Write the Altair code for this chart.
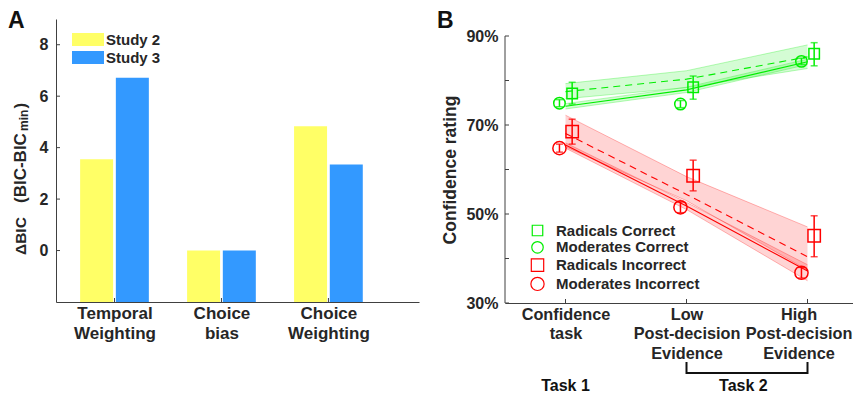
import altair as alt
import pandas as pd

# ---------------- Panel A data ----------------
bic_positions = [1, 2, 3]
bic_label_lines = [["Temporal", "Weighting"], ["Choice", "bias"], ["Choice", "Weighting"]]
studies = ["Study 2", "Study 3"]
study2_dbic = [3.55, 0.0, 4.83]
study3_dbic = [6.72, 0.0, 3.34]
study_colors = ["#ffff66", "#3399ff"]
bic_ticks = [0, 2, 4, 6, 8]

# ---------------- Panel B data ----------------
cond_positions = [1, 2, 3]
cond_label_lines = [["Confidence", "task"],
                    ["Low", "Post-decision", "Evidence"],
                    ["High", "Post-decision", "Evidence"]]
series_names = ["Radicals Correct", "Moderates Correct", "Radicals Incorrect", "Moderates Incorrect"]
series_colors = ["#00ee00", "#00ee00", "#ff0000", "#ff0000"]
series_shapes = ["square", "circle", "square", "circle"]

rad_correct_mean = [77.1, 78.5, 86.0]
rad_correct_lo = [74.7, 75.8, 83.3]
rad_correct_hi = [79.6, 81.0, 88.5]
mod_correct_mean = [74.9, 74.7, 84.3]
mod_correct_lo = [74.1, 73.9, 83.6]
mod_correct_hi = [75.7, 75.5, 85.0]
rad_incorrect_mean = [68.5, 58.6, 45.1]
rad_incorrect_lo = [65.7, 55.2, 40.4]
rad_incorrect_hi = [71.3, 62.1, 49.6]
mod_incorrect_mean = [64.8, 51.5, 36.8]
mod_incorrect_lo = [63.9, 50.3, 35.6]
mod_incorrect_hi = [65.7, 52.7, 38.0]

# model fits with confidence bands
fit_rad_correct = [77.5, 80.3, 85.3]
band_rad_correct_lo = [75.9, 78.4, 82.7]
band_rad_correct_hi = [79.3, 82.2, 88.0]
fit_mod_correct = [74.2, 77.9, 84.2]
band_mod_correct_lo = [73.6, 77.3, 83.6]
band_mod_correct_hi = [74.8, 78.5, 84.8]
fit_rad_incorrect = [68.1, 54.4, 40.4]
band_rad_incorrect_lo = [65.1, 53.0, 37.4]
band_rad_incorrect_hi = [72.2, 58.4, 47.1]
fit_mod_incorrect = [65.5, 51.8, 37.2]
band_mod_incorrect_lo = [64.8, 51.0, 35.0]
band_mod_incorrect_hi = [66.0, 52.6, 38.6]

conf_ticks = [30, 40, 50, 60, 70, 80, 90]
conf_labels = [30, 50, 70, 90]
task_labels = ["Task 1", "Task 2"]
task_label_pos = [1, 2.47]
bracket_pos = [2, 3]

TXT = "#262626"
FONT = "Liberation Sans"


def label_expr(positions, lines):
    parts = []
    for p, ls in zip(positions, lines):
        arr = "[" + ",".join("'" + s + "'" for s in ls) + "]"
        parts.append(f"datum.value == {p} ? {arr} : ")
    return "".join(parts) + "''"


# ================= Panel A =================
WA, HA = 363, 283
xA_scale = alt.Scale(domain=[0.5, 3.8], nice=False, zero=False)
yA_scale = alt.Scale(domain=[-2, 9], nice=False, zero=False)
xA_axis = alt.Axis(values=bic_positions, labelExpr=label_expr(bic_positions, bic_label_lines),
                   title=None, grid=False, ticks=False, tickSize=0, labelPadding=3,
                   labelFontSize=17, labelFontWeight="bold", labelColor=TXT, labelFont=FONT,
                   labelLineHeight=20, labelBaseline="top", domainColor="#404040",
                   labelAngle=0)
yA_axis = alt.Axis(values=bic_ticks, title=None, grid=False, ticks=False, tickSize=0,
                   labelPadding=8, labelFontSize=16, labelFontWeight="bold", labelColor=TXT,
                   labelFont=FONT, domainColor="#404040")

bar_rows = []
offsets = [-0.167, 0.167]
for si, (s, vals) in enumerate(zip(studies, [study2_dbic, study3_dbic])):
    for p, v in zip(bic_positions, vals):
        bar_rows.append({"study": s, "xpos": p + offsets[si], "dbic": v})
bar_df = pd.DataFrame(bar_rows)

bars = alt.Chart(bar_df).mark_bar(size=33).encode(
    x=alt.X("xpos:Q", scale=xA_scale, axis=xA_axis),
    y=alt.Y("dbic:Q", scale=yA_scale, axis=yA_axis),
    y2=alt.datum(-2),
    color=alt.Color("study:N", scale=alt.Scale(domain=studies, range=study_colors),
                    legend=alt.Legend(title=None, orient="none", legendX=22, legendY=10.5,
                                      symbolType="M-1.6,-0.65H1.6V0.65H-1.6Z", symbolSize=400,
                                      symbolStrokeWidth=0, labelFontSize=15,
                                      labelFontWeight="bold", labelColor=TXT, labelFont=FONT,
                                      labelOffset=8, rowPadding=-2, padding=0)),
)

tickA_y = alt.Chart(pd.DataFrame({"v": bic_ticks})).mark_rule(color="#404040", strokeWidth=1).encode(
    x=alt.value(0), x2=alt.value(4),
    y=alt.Y("v:Q", scale=yA_scale, axis=yA_axis))
tickA_x = alt.Chart(pd.DataFrame({"p": bic_positions})).mark_rule(color="#404040", strokeWidth=1).encode(
    x=alt.X("p:Q", scale=xA_scale, axis=xA_axis),
    y=alt.value(HA), y2=alt.value(HA - 4))

panel_letter_A = alt.Chart(pd.DataFrame({"t": ["A"]})).mark_text(
    align="left", baseline="top", fontSize=23, fontWeight="bold", font=FONT, color="#111"
).encode(text="t:N", x=alt.value(-48), y=alt.value(-9))

ytitle_parts = pd.DataFrame({
    "t": ["ΔBIC", "(BIC-BIC", "min", ")"],
    "y": [236, 184, 112, 89.5],
    "x": [-30.5, -30.5, -28.5, -30.5],
    "fs": [15.5, 17, 12, 17],
})
ytitle_A = alt.Chart(ytitle_parts).mark_text(
    align="left", baseline="alphabetic", angle=270, font=FONT, fontWeight="bold", color=TXT
).encode(text="t:N", x=alt.X("x:Q", scale=None), y=alt.Y("y:Q", scale=None),
         size=alt.Size("fs:Q", scale=None))

panelA = alt.layer(bars, tickA_y, tickA_x, panel_letter_A, ytitle_A).properties(width=WA, height=HA)

# ================= Panel B =================
WB, HB = 363, 284
xB_scale = alt.Scale(domain=[0.5, 3.5], nice=False, zero=False)
yB_scale = alt.Scale(domain=[30, 30 + HB / 4.45], nice=False, zero=False)
xB_axis = alt.Axis(values=cond_positions, labelExpr=label_expr(cond_positions, cond_label_lines),
                   title=None, grid=False, ticks=False, tickSize=0, labelPadding=3,
                   labelFontSize=16.3, labelFontWeight="bold", labelColor=TXT, labelFont=FONT,
                   labelLineHeight=19.5, labelBaseline="top", domainColor="#404040",
                   labelAngle=0,
                   labelOffset={"condition": {"test": "datum.value == 3", "value": -9}, "value": 0})
yB_axis = alt.Axis(values=conf_labels, labelExpr="datum.value + '%'", title=None, grid=False,
                   ticks=False, tickSize=0, labelPadding=7, labelFontSize=16,
                   labelFontWeight="bold", labelColor=TXT, labelFont=FONT, domain=False)


def XB(field):
    return alt.X(field, scale=xB_scale, axis=xB_axis)


def YB(field):
    return alt.Y(field, scale=yB_scale, axis=yB_axis)


fits = {
    "Radicals Correct": (fit_rad_correct, band_rad_correct_lo, band_rad_correct_hi),
    "Moderates Correct": (fit_mod_correct, band_mod_correct_lo, band_mod_correct_hi),
    "Radicals Incorrect": (fit_rad_incorrect, band_rad_incorrect_lo, band_rad_incorrect_hi),
    "Moderates Incorrect": (fit_mod_incorrect, band_mod_incorrect_lo, band_mod_incorrect_hi),
}
obs = {
    "Radicals Correct": (rad_correct_mean, rad_correct_lo, rad_correct_hi),
    "Moderates Correct": (mod_correct_mean, mod_correct_lo, mod_correct_hi),
    "Radicals Incorrect": (rad_incorrect_mean, rad_incorrect_lo, rad_incorrect_hi),
    "Moderates Incorrect": (mod_incorrect_mean, mod_incorrect_lo, mod_incorrect_hi),
}
hexmap = dict(zip(series_names, series_colors))

fit_rows, obs_rows = [], []
for s in series_names:
    f, lo, hi = fits[s]
    group = "radical" if s.startswith("Radicals") else "moderate"
    for i, p in enumerate(cond_positions):
        fit_rows.append({"series": s, "group": group, "pos": p, "fit": f[i], "lo": lo[i],
                         "hi": hi[i], "hex": hexmap[s]})
    m, lo, hi = obs[s]
    off = 0.055 if group == "radical" else -0.05
    for i, p in enumerate(cond_positions):
        obs_rows.append({"series": s, "group": group, "xpos": p + off, "mean": m[i], "lo": lo[i],
                         "hi": hi[i], "hex": hexmap[s]})
fit_df = pd.DataFrame(fit_rows)
obs_df = pd.DataFrame(obs_rows)

band = alt.Chart(fit_df).mark_area(opacity=0.17).encode(
    x=XB("pos:Q"), y=YB("lo:Q"), y2="hi:Q",
    fill=alt.Fill("hex:N", scale=None), detail="series:N")
band_lo = alt.Chart(fit_df).mark_line(strokeWidth=0.8, opacity=0.35).encode(
    x=XB("pos:Q"), y=YB("lo:Q"), stroke=alt.Stroke("hex:N", scale=None), detail="series:N")
band_hi = alt.Chart(fit_df).mark_line(strokeWidth=0.8, opacity=0.35).encode(
    x=XB("pos:Q"), y=YB("hi:Q"), stroke=alt.Stroke("hex:N", scale=None), detail="series:N")
fit_dashed = alt.Chart(fit_df).transform_filter("datum.group == 'radical'").mark_line(
    strokeWidth=1.1, strokeDash=[7, 5]).encode(
    x=XB("pos:Q"), y=YB("fit:Q"), stroke=alt.Stroke("hex:N", scale=None), detail="series:N")
fit_solid = alt.Chart(fit_df).transform_filter("datum.group == 'moderate'").mark_line(
    strokeWidth=1.1).encode(
    x=XB("pos:Q"), y=YB("fit:Q"), stroke=alt.Stroke("hex:N", scale=None), detail="series:N")

err_rule = alt.Chart(obs_df).mark_rule(strokeWidth=1.5).encode(
    x=XB("xpos:Q"), y=YB("lo:Q"), y2="hi:Q", stroke=alt.Stroke("hex:N", scale=None))
cap_lo = alt.Chart(obs_df).mark_tick(orient="horizontal", size=7, thickness=1.5).encode(
    x=XB("xpos:Q"), y=YB("lo:Q"), fill=alt.Fill("hex:N", scale=None))
cap_hi = alt.Chart(obs_df).mark_tick(orient="horizontal", size=7, thickness=1.5).encode(
    x=XB("xpos:Q"), y=YB("hi:Q"), fill=alt.Fill("hex:N", scale=None))

points = alt.Chart(obs_df).mark_point(filled=False, strokeWidth=1.5, opacity=1).encode(
    x=XB("xpos:Q"), y=YB("mean:Q"),
    color=alt.Color("series:N", scale=alt.Scale(domain=series_names, range=series_colors),
                    legend=alt.Legend(title=None, orient="none", legendX=25, legendY=204,
                                      labelFontSize=15, labelFontWeight="bold",
                                      labelColor=TXT, labelFont=FONT, symbolStrokeWidth=1.2,
                                      labelOffset=11, rowPadding=-0.2, padding=0)),
    shape=alt.Shape("series:N", scale=alt.Scale(domain=series_names, range=series_shapes)),
    size=alt.Size("series:N", scale=alt.Scale(domain=series_names, range=[110, 175, 110, 175])),
)

# axis line and inward ticks
axis_line_B = alt.Chart(pd.DataFrame({"a": [30], "b": [90]})).mark_rule(
    color="#404040", strokeWidth=1).encode(x=alt.value(0), y=YB("a:Q"), y2="b:Q")
tickB_y = alt.Chart(pd.DataFrame({"v": conf_ticks})).mark_rule(color="#404040", strokeWidth=1).encode(
    x=alt.value(0), x2=alt.value(4), y=YB("v:Q"))
tickB_x = alt.Chart(pd.DataFrame({"p": cond_positions})).mark_rule(color="#404040", strokeWidth=1).encode(
    x=XB("p:Q"), y=alt.value(HB), y2=alt.value(HB - 4))

panel_letter_B = alt.Chart(pd.DataFrame({"t": ["B"]})).mark_text(
    align="left", baseline="top", fontSize=23, fontWeight="bold", font=FONT, color="#111"
).encode(text="t:N", x=alt.value(-68), y=alt.value(-9))

ytitle_B = alt.Chart(pd.DataFrame({"t": ["Confidence rating"]})).mark_text(
    align="center", baseline="alphabetic", angle=270, fontSize=17.5, fontWeight="bold",
    font=FONT, color=TXT).encode(text="t:N", x=alt.value(-49), y=alt.value(151))

bracket_h = alt.Chart(pd.DataFrame({"a": [bracket_pos[0]], "b": [bracket_pos[1]]})).mark_rule(
    color="#111", strokeWidth=2).encode(x=XB("a:Q"), x2="b:Q", y=alt.value(354))
bracket_v = alt.Chart(pd.DataFrame({"p": bracket_pos})).mark_rule(
    color="#111", strokeWidth=2).encode(x=XB("p:Q"), y=alt.value(343), y2=alt.value(355))
task_text = alt.Chart(pd.DataFrame({"t": task_labels, "p": task_label_pos})).mark_text(
    align="center", baseline="middle", fontSize=16, fontWeight="bold", font=FONT, color="#111"
).encode(text="t:N", x=XB("p:Q"), y=alt.value(367))

panelB = alt.layer(band, band_lo, band_hi, fit_dashed, fit_solid, err_rule, cap_lo, cap_hi,
                   points, axis_line_B, tickB_y, tickB_x, panel_letter_B, ytitle_B,
                   bracket_h, bracket_v, task_text).properties(width=WB, height=HB)

chart = alt.hconcat(panelA, panelB, spacing=86, bounds="flush").properties(
    padding={"left": 0, "top": 2, "right": -15, "bottom": 0}
).configure_view(stroke=None).resolve_scale(color="independent", fill="independent",
                                            stroke="independent", shape="independent",
                                            size="independent")

chart.save("out.html", embed_options={"renderer": "svg", "actions": False})
